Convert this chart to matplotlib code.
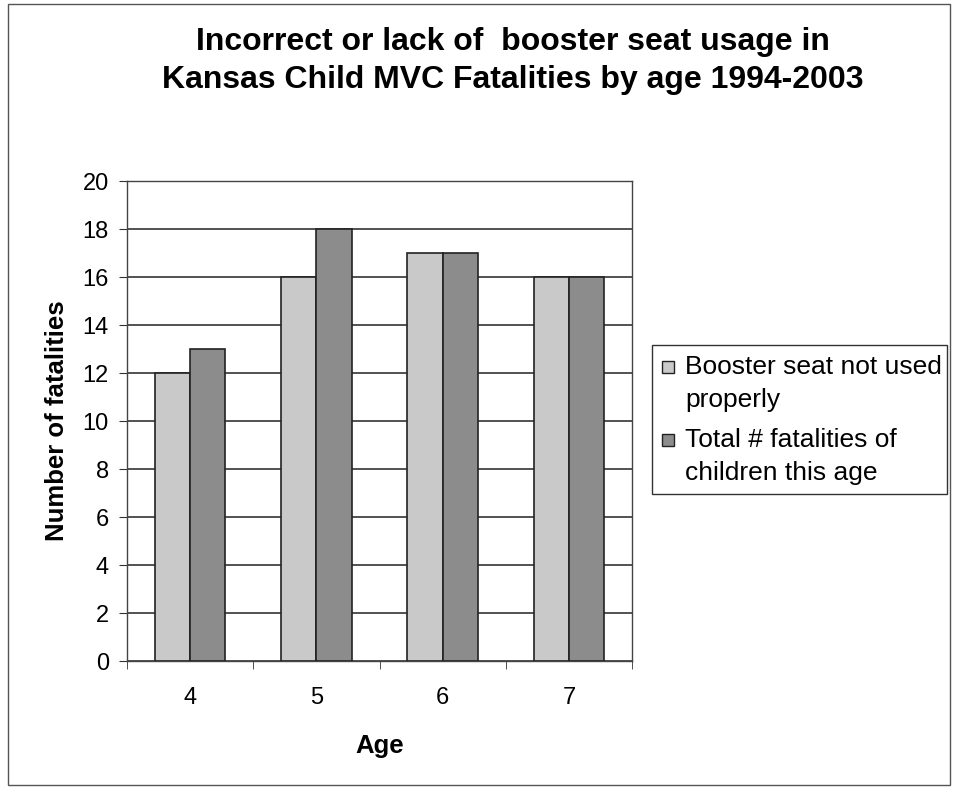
import numpy as np
import matplotlib.pyplot as plt
from matplotlib.patches import Rectangle

plt.rcParams['font.family'] = ['Liberation Sans', 'DejaVu Sans']

ages = ['4', '5', '6', '7']
not_proper = [12, 16, 17, 16]
total = [13, 18, 17, 16]
labels = ['Booster seat not used\nproperly', 'Total # fatalities of\nchildren this age']
colors = ['#c9c9c9', '#8c8c8c']

W, H = 956, 789


def fx(px):
    return px / W


def fy(py):
    return 1 - py / H


fig = plt.figure(figsize=(W / 100, H / 100), dpi=100)
fig.patches.append(Rectangle((fx(8), fy(785)), 942 / W, 781 / H, transform=fig.transFigure,
                             fill=False, edgecolor='#555555', linewidth=1.0))

ax = fig.add_axes([fx(127), fy(661), 505 / W, 480 / H])
x = np.arange(len(ages))
w = 0.28
ax.bar(x - w / 2, not_proper, w, color=colors[0], edgecolor='#222222', linewidth=1.2, zorder=3)
ax.bar(x + w / 2, total, w, color=colors[1], edgecolor='#222222', linewidth=1.2, zorder=3)

ax.set_xlim(-0.5, 3.5)
ax.set_ylim(0, 20)
ax.set_yticks(range(0, 21, 2))
ax.yaxis.grid(True, color='#333333', linewidth=1.2, zorder=0)
ax.set_xticks(x)
ax.set_xticklabels(ages)
ax.set_xticks(np.arange(-0.5, 4, 1), minor=True)
ax.tick_params(axis='x', which='major', length=0, pad=19, labelsize=17)
ax.tick_params(axis='x', which='minor', length=6, direction='out', color='#333333')
ax.tick_params(axis='y', length=6, direction='out', labelsize=17, color='#333333', pad=7)
for s in ax.spines.values():
    s.set_color('#444444')
    s.set_linewidth(1.0)
ax.set_xlabel('Age', fontsize=18.5, fontweight='bold', labelpad=18)
ax.set_ylabel('Number of fatalities', fontsize=18.5, fontweight='bold', labelpad=10)

fig.text(fx(513), fy(61), 'Incorrect or lack of  booster seat usage in\nKansas Child MVC Fatalities by age 1994-2003',
         ha='center', va='center', fontsize=23, fontweight='bold', linespacing=1.33)

# legend drawn by hand so the swatch sits on the first line of each entry
fig.patches.append(Rectangle((fx(652), fy(494)), 295 / W, 149 / H, transform=fig.transFigure,
                             fill=True, facecolor='white', edgecolor='#333333', linewidth=1.0))
first_line_y = [367, 440]
for lab, col, y0 in zip(labels, colors, first_line_y):
    fig.patches.append(Rectangle((fx(662), fy(y0 + 6)), 12 / W, 12 / H, transform=fig.transFigure,
                                 facecolor=col, edgecolor='#222222', linewidth=1.0))
    for k, line in enumerate(lab.split('\n')):
        fig.text(fx(685), fy(y0 + 33 * k), line, ha='left', va='center', fontsize=19)

fig.savefig('out.png', dpi=100)
